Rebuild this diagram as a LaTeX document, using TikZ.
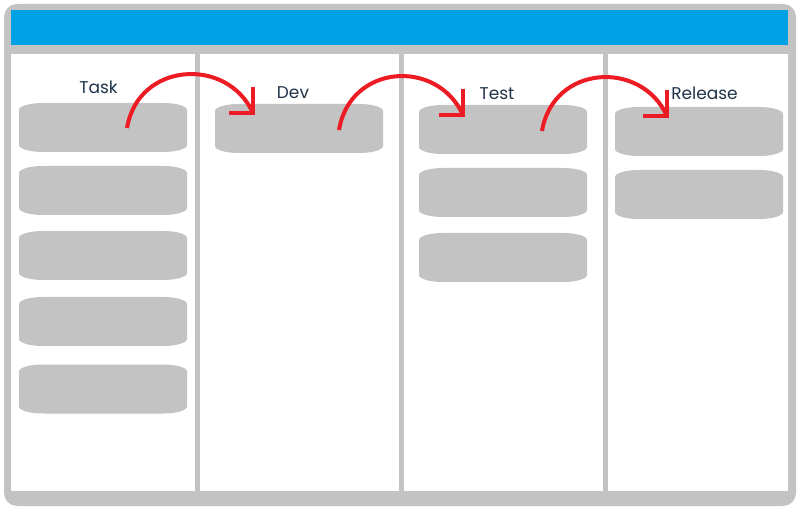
\documentclass[tikz,border=0pt]{standalone}
\usepackage{fontspec}
\setmainfont{Poppins}
\usetikzlibrary{positioning}
\definecolor{boardgray}{HTML}{C3C3C3}
\definecolor{headblue}{HTML}{00A1E5}
\definecolor{flowred}{HTML}{ED1C24}
\definecolor{lanenavy}{HTML}{1F3349}

\begin{document}
\begin{tikzpicture}[x=1pt,y=-1pt,
    card/.pic={
      \fill[boardgray] (-60,-24.5)--(60,-24.5)
        arc[start angle=-90,end angle=0,x radius=24,y radius=7]--(84,17.5)
        arc[start angle=0,end angle=90,x radius=24,y radius=7]--(-60,24.5)
        arc[start angle=90,end angle=180,x radius=24,y radius=7]--(-84,-17.5)
        arc[start angle=180,end angle=270,x radius=24,y radius=7]--cycle;
    },
    lane/.style={font=\fontsize{17}{17}\selectfont,text=lanenavy,anchor=base,inner sep=0pt},
    flow/.style={flowred,line width=4pt}]
    \useasboundingbox (0,0) rectangle (800,510);

    % board
    \fill[boardgray,rounded corners=13pt] (4,4) rectangle (796,506);
    \fill[headblue] (11,10) rectangle (788,45);
    \fill[white] (11,54) rectangle (788,491);
    \foreach \x in {197,401,605}
      \fill[boardgray] (\x-2.5,54) rectangle (\x+2.5,491);

    % lanes
    \node[lane] (task) at (98.5,94) {Task};
    \node[lane] (dev) at (293,99) {Dev};
    \node[lane] (test) at (497,100) {Test};
    \node[lane] (release) at (704.5,100) {Release};

    % cards
    \foreach \y in {127.5,190.5,255.5,321.5,389}
      \pic at (103,\y) {card};
    \pic at (299,128.5) {card};
    \foreach \y in {129.5,192.5,257.5}
      \pic at (503,\y) {card};
    \foreach \y in {131.5,194.5}
      \pic at (699,\y) {card};

    % moves
    \coordinate (taskout) at (127,128);
    \coordinate (devin) at (253,113);
    \coordinate (devout) at (339,130);
    \coordinate (testin) at (463,115);
    \coordinate (testout) at (542,131);
    \coordinate (releasein) at (667,116);

    \draw[flow] (taskout) .. controls (138,62) and (227,56) .. (devin);
    \draw[flow] (devin) ++(0,-26) -- (devin) -- ++(-24,0);
    \draw[flow] (devout) .. controls (350,64) and (437,58) .. (testin);
    \draw[flow] (testin) ++(0,-26) -- (testin) -- ++(-24,0);
    \draw[flow] (testout) .. controls (553,65) and (641,59) .. (releasein);
    \draw[flow] (releasein) ++(0,-26) -- (releasein) -- ++(-24,0);
  \end{tikzpicture}
\end{document}
